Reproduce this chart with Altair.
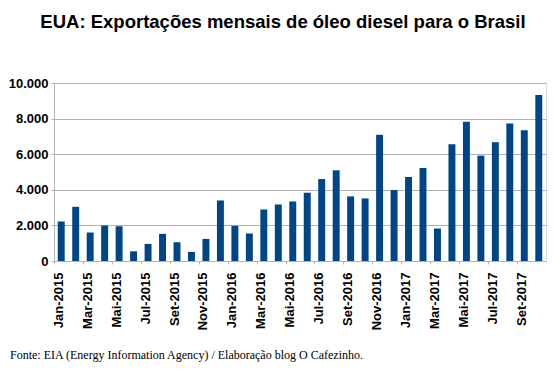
import altair as alt
import pandas as pd

months = ["Jan", "Fev", "Mar", "Abr", "Mai", "Jun", "Jul", "Ago", "Set", "Out", "Nov", "Dez"]
categories = [f"{m}-{y}" for y in (2015, 2016, 2017) for m in months][:34]

values = [2220, 3045, 1600, 1995, 1955, 545, 960, 1525, 1055, 510, 1240, 3400,
          1975, 1545, 2895, 3175, 3345, 3835, 4605, 5095, 3630, 3515, 7090, 3985,
          4720, 5225, 1825, 6560, 7820, 5920, 6675, 7725, 7350, 9325]

y_ticks = [0, 2000, 4000, 6000, 8000, 10000]
shown_labels = categories[::2]

title_text = "EUA: Exportações mensais de óleo diesel para o Brasil"
footer_text = "Fonte: EIA (Energy Information Agency) / Elaboração blog O Cafezinho."

df = pd.DataFrame({"mes": categories, "valor": values})

W, H = 492, 178
step = W / (len(categories) - 0.52 + 2 * 0.26)

bars = alt.Chart(df).mark_bar(color="#004586").encode(
    x=alt.X("mes:N", sort=categories,
            scale=alt.Scale(paddingInner=0.52, paddingOuter=0.26),
            axis=alt.Axis(title=None, values=shown_labels, labelAngle=270,
                          labelFont="Liberation Sans", labelFontWeight="bold",
                          labelFontSize=13, labelColor="#000000",
                          tickOffset=-step / 2, labelOffset=step / 2 - 3,
                          tickSize=3, labelPadding=8, tickColor="#b3b3b3",
                          domainColor="#b3b3b3", grid=False)),
    y=alt.Y("valor:Q", scale=alt.Scale(domain=[0, 10000]),
            axis=alt.Axis(title=None, values=y_ticks,
                          labelExpr="replace(format(datum.value, ','), ',', '.')",
                          labelFont="Liberation Sans", labelFontWeight="bold",
                          labelFontSize=13, labelColor="#000000",
                          tickSize=3, labelPadding=3, tickColor="#b3b3b3",
                          domainColor="#b3b3b3", gridColor="#b3b3b3")),
)

footer = alt.Chart(pd.DataFrame({"t": [footer_text]})).mark_text(
    font="Liberation Serif", fontSize=12, align="left", baseline="alphabetic",
    color="#000000"
).encode(text="t:N", x=alt.value(-44), y=alt.value(276))

chart = alt.layer(bars, footer).properties(
    width=W, height=H,
    autosize=alt.AutoSizeParams(type="none"),
    padding={"left": 46, "top": 75, "right": 4, "bottom": 101},
    title=alt.TitleParams(title_text, anchor="middle", dx=-17, offset=46,
                          font="Liberation Sans", fontSize=18.5,
                          fontWeight="bold", color="#000000"),
).configure_view(stroke="#b3b3b3").configure(background="#ffffff")

chart.save("out.html", embed_options={"renderer": "svg", "actions": False})
